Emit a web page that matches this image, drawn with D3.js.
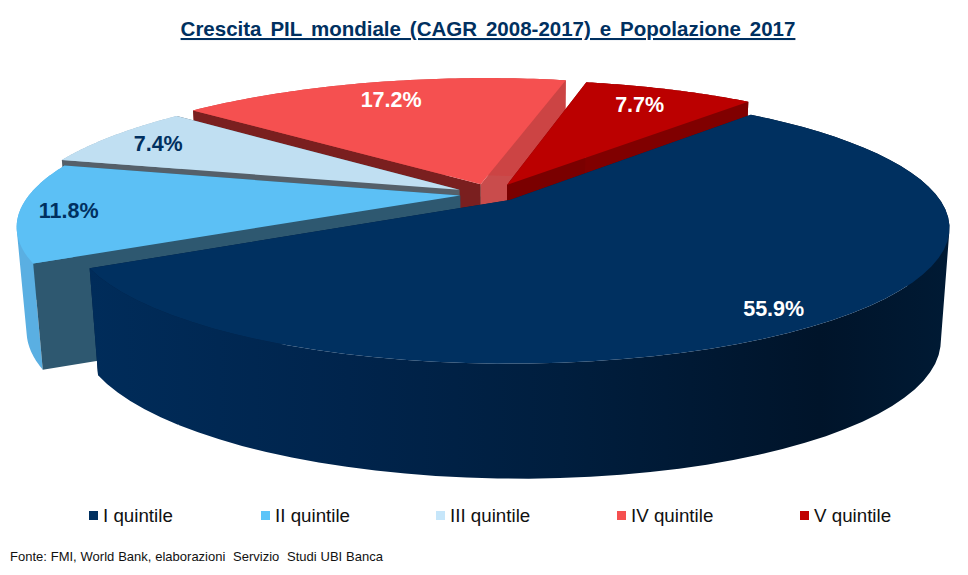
<!DOCTYPE html>
<html><head><meta charset="utf-8">
<script src="https://cdn.jsdelivr.net/npm/d3@7"></script>
<style>html,body{margin:0;background:#fff}svg{display:block}text{font-family:"Liberation Sans",Arial,sans-serif}</style>
</head><body><svg id="c" width="968" height="575"></svg>
<script>
const categories = ["I quintile","II quintile","III quintile","IV quintile","V quintile"];
const values = [55.9,11.8,7.4,17.2,7.7];
const titleText = "Crescita PIL mondiale (CAGR 2008-2017) e Popolazione 2017";
const sourceText = "Fonte: FMI, World Bank, elaborazioni  Servizio  Studi UBI Banca";

// explosion of each slice on the pie plane (unit radius)
const explodeX = d3.scaleOrdinal(categories,[-.005,-.122,-.125,-.075,-.012]);
const explodeY = d3.scaleOrdinal(categories,[0,-.035,-.08,-.125,-.12]);
const reach = d3.scaleOrdinal(categories,[1.005,1.015,1.03,1.05,1.03]);
const topColor = d3.scaleOrdinal(categories,["#003060","#5cc0f5","#c0dff2","#f55050","#bb0000"]);
const outerColor = d3.scaleOrdinal(categories,["url(#wallI)","#5aafe2","#9ab5c6","#c44","#800000"]);
const startWall = d3.scaleOrdinal(categories,["#001f40","#2e5870","#55606a","#7a1f1f","#7a0000"]);
const endWall = d3.scaleOrdinal(categories,["#001f40","#2e5870","#55606a","#c94c4c","#7a0000"]);
const legendColor = d3.scaleOrdinal(categories,["#003060","#5cc4f8","#c6e6fa","#f55050","#c00000"]);
const labelColor = d3.scaleOrdinal(categories,["#fff","#003060","#003060","#fff","#fff"]);
const legendX = d3.scaleOrdinal(categories,[89,261,436,617,800]);
const labelDX = d3.scaleOrdinal(categories,[-10,-13,-3,4,-9]);
const labelDY = d3.scaleOrdinal(categories,[14,8,8,10,10]);

const X0=512,Y0=200,A=428,B=129,K=.207,SHRINK=.02;
function project(x,y,d){
  const w=1-K*y;
  return [X0+A*x/w*(1-SHRINK*d), Y0+B*y/w+(107+4.4*x+7.9*y)*d];
}
const slices = d3.pie().sort(null).startAngle(40.4*Math.PI/180).endAngle((360+40.4)*Math.PI/180)
  .value(d=>d.v)(categories.map((c,i)=>({c,v:values[i]})));
const pt=(s,a,r,d)=>{const R=r*reach(s.data.c);return project(explodeX(s.data.c)+R*Math.sin(a),explodeY(s.data.c)-R*Math.cos(a),d);};
const line=d3.line();
const arcPts=(s,d)=>d3.range(0,61).map(i=>pt(s,s.startAngle+(s.endAngle-s.startAngle)*i/60,1,d));
function wallPath(s){
  const t=arcPts(s,0),b=arcPts(s,1);
  return d3.range(60).map(i=>{
    const q=[t[i],t[i+1],b[i+1],b[i]];
    if(d3.polygonArea(q)<0) q.reverse();
    return line(q)+"Z";
  }).join("");
}
const radial=(s,a)=>line([pt(s,a,0,0),pt(s,a,1,0),pt(s,a,1,1),pt(s,a,0,1)])+"Z";

const svg=d3.select("#c");
const grad=svg.append("defs").append("linearGradient").attr("id","wallI")
  .attr("gradientUnits","userSpaceOnUse").attr("x1",90).attr("x2",948).attr("y1",0).attr("y2",0);
[[0,"#002c5a"],[.3,"#00244c"],[.55,"#001e3e"],[.85,"#00142a"],[1,"#001a34"]].forEach(([o,c])=>grad.append("stop").attr("offset",o).attr("stop-color",c));

// painter's order: back slices first
const order=["IV quintile","V quintile","III quintile","II quintile","I quintile"];
const sorted=order.map(c=>slices.find(s=>s.data.c===c));
const g=svg.selectAll("g.slice").data(sorted).join("g").attr("class","slice");
g.append("path").attr("fill",s=>endWall(s.data.c)).attr("d",s=>radial(s,s.endAngle));
g.append("path").attr("fill",s=>outerColor(s.data.c)).attr("d",wallPath);
g.append("path").attr("fill",s=>startWall(s.data.c)).attr("d",s=>radial(s,s.startAngle));
g.append("path").attr("fill",s=>topColor(s.data.c)).attr("d",s=>line([pt(s,0,0,0)].concat(arcPts(s,0)))+"Z");

svg.selectAll("text.val").data(slices).join("text").attr("class","val")
  .attr("text-anchor","middle").attr("font-size",21.5).attr("font-weight","bold")
  .attr("fill",s=>labelColor(s.data.c))
  .attr("x",s=>pt(s,(s.startAngle+s.endAngle)/2,.875/reach(s.data.c),0)[0]+labelDX(s.data.c))
  .attr("y",s=>pt(s,(s.startAngle+s.endAngle)/2,.875/reach(s.data.c),0)[1]+labelDY(s.data.c))
  .text(s=>s.data.v.toFixed(1)+"%");

svg.append("text").attr("x",488).attr("y",36).attr("text-anchor","middle").attr("font-size",20.5).attr("font-weight","bold")
  .attr("fill","#003060").attr("text-decoration","underline").style("word-spacing","3.25px").text(titleText);

const lg=svg.selectAll("g.leg").data(categories).join("g").attr("class","leg").attr("transform",c=>`translate(${legendX(c)},0)`);
lg.append("rect").attr("y",511).attr("width",9).attr("height",9).attr("fill",c=>legendColor(c));
lg.append("text").attr("x",14).attr("y",522).attr("font-size",18.75).attr("fill","#111").text(c=>c);

svg.append("text").attr("x",10).attr("y",561).attr("font-size",13).attr("fill","#111").style("white-space","pre").style("word-spacing",".25px").text(sourceText);
</script></body></html>
